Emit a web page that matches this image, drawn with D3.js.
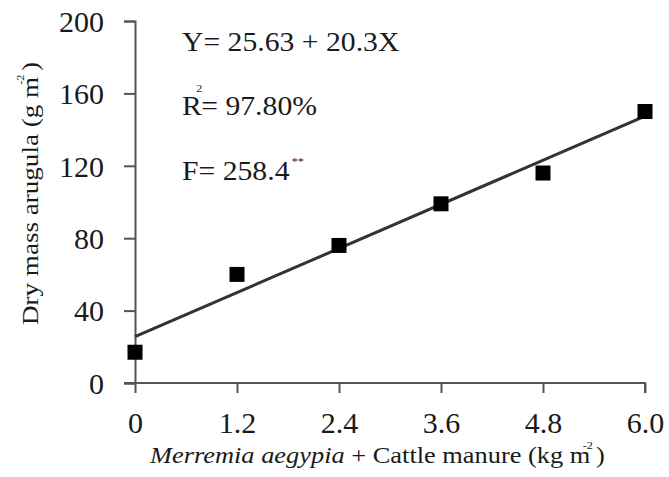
<!DOCTYPE html>
<html>
<head>
<meta charset="utf-8">
<script src="https://cdn.jsdelivr.net/npm/d3@7.9.0/dist/d3.min.js"></script>
<style>
  body { margin: 0; background: #fff; }
  svg { display: block; font-family: "Liberation Serif", "DejaVu Serif", serif; }
</style>
</head>
<body>
<svg id="chart" width="669" height="477"></svg>
<script>
// ---- data ----
const doses = [0, 1.2, 2.4, 3.6, 4.8, 6.0];          // kg m-2
const dryMass = [17, 60, 76, 99, 116, 150];          // g m-2
const xTicks = [0, 1.2, 2.4, 3.6, 4.8, 6.0];
const yTicks = [0, 40, 80, 120, 160, 200];
const fitA = 25.63, fitB = 20.3;                     // Y = a + bX

const svg = d3.select('#chart');
const x = d3.scaleLinear().domain([0, 6]).range([135, 645]);
const y = d3.scaleLinear().domain([0, 200]).range([383, 21]);
const axisColor = '#555';
const ink = '#1a1a1a';

// y axis
const gy = svg.append('g').attr('transform', 'translate(135,0)')
  .call(d3.axisLeft(y).tickValues(yTicks).tickFormat(d3.format('d')).tickSize(11).tickPadding(20));
// x axis
const gx = svg.append('g').attr('transform', 'translate(0,383)')
  .call(d3.axisBottom(x).tickValues(xTicks).tickFormat(d => d === 0 ? '0' : d3.format('.1f')(d)).tickSize(10).tickPadding(19));

[gx, gy].forEach(g => {
  g.select('.domain').attr('stroke', axisColor).attr('stroke-width', 2);
  g.selectAll('.tick line').attr('stroke', axisColor).attr('stroke-width', 2);
  g.selectAll('.tick text').attr('fill', ink).style('font-size', '30px')
    .style('font-family', '"Liberation Serif", serif');
});
gx.select('.domain').attr('d', 'M124,0H645V10');
gx.selectAll('.tick text').attr('dy', '0.71em');
gy.selectAll('.tick text').attr('dy', '0.34em');

// regression line
svg.append('line')
  .attr('x1', x(0)).attr('y1', y(fitA))
  .attr('x2', x(6)).attr('y2', y(fitA + fitB * 6))
  .attr('stroke', '#333').attr('stroke-width', 3);

// points
svg.selectAll('rect.pt')
  .data(doses.map((d, i) => ({ d, m: dryMass[i] })))
  .enter().append('rect')
  .attr('class', 'pt')
  .attr('x', p => x(p.d) - 7.5).attr('y', p => y(p.m) - 7.5)
  .attr('width', 15).attr('height', 15)
  .attr('fill', '#000');

// stretch a text along its baseline so it spans `w` pixels (the source font is wide)
function stretchTo(g, w) {
  const bw = g.node().getBBox().width;
  const t = g.attr('data-t');
  g.attr('transform', `${t} scale(${w / bw},1)`);
}

// annotations
const ann = svg.append('g').attr('data-t', 'translate(182,0)')
  .attr('fill', ink).style('font-size', '27px');
ann.append('text').attr('x', 0).attr('y', 51).text('Y= 25.63 + 20.3X');
const r2 = ann.append('text').attr('x', 0).attr('y', 115);
r2.append('tspan').text('R');
r2.append('tspan').attr('dx', -5).attr('dy', -23).style('font-size', '11px').text('2');
r2.append('tspan').attr('dx', -1).attr('dy', 23).text('= 97.80%');
const f = ann.append('text').attr('x', 0).attr('y', 180);
f.append('tspan').text('F= 258.4');
f.append('tspan').attr('dx', 2).attr('dy', -15).style('font-size', '11px').text('**');
stretchTo(ann, 218);

// x label
const xl = svg.append('g').attr('data-t', 'translate(150,463)');
const xt = xl.append('text').attr('fill', ink).style('font-size', '24px');
xt.append('tspan').style('font-style', 'italic').text('Merremia aegypia');
xt.append('tspan').text(' + Cattle manure (kg m');
xt.append('tspan').attr('dx', -7).attr('dy', -14).style('font-size', '11px').text('-2');
xt.append('tspan').attr('dx', 3).attr('dy', 14).text(')');
stretchTo(xl, 456);

// y label
const yg = svg.append('g').attr('data-t', 'translate(38,325) rotate(-90)');
const yt = yg.append('text').attr('fill', ink).style('font-size', '24px');
yt.append('tspan').text('Dry mass arugula (g m');
yt.append('tspan').attr('dx', -7).attr('dy', -14).style('font-size', '11px').text('-2');
yt.append('tspan').attr('dx', 3).attr('dy', 14).text(')');
stretchTo(yg, 263);
</script>
</body>
</html>
